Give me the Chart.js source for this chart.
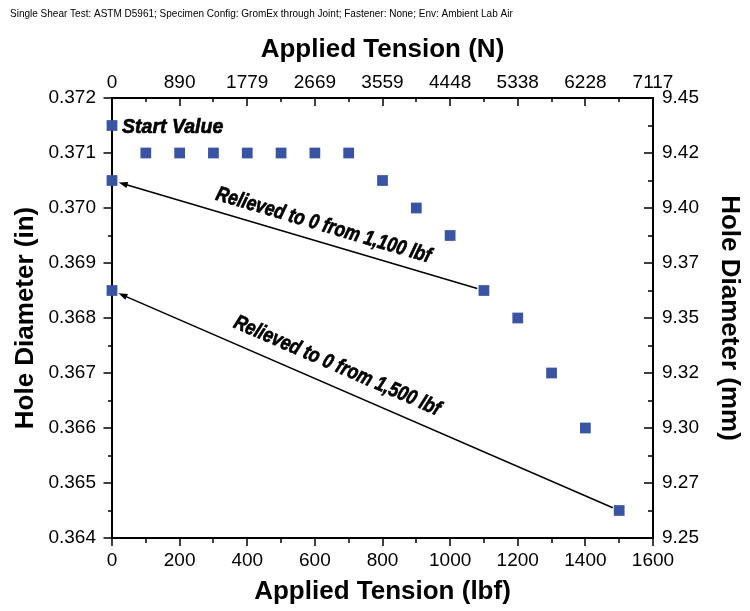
<!DOCTYPE html>
<html><head><meta charset="utf-8">
<script src="https://cdn.jsdelivr.net/npm/chart.js@4/dist/chart.umd.min.js"></script>
<style>html,body{margin:0;padding:0;background:#fff}#wrap{width:750px;height:611px}</style>
</head><body><div id="wrap"><canvas id="c" width="750" height="611"></canvas></div>
<script>
const chartTitle = 'Single Shear Test: ASTM D5961; Specimen Config: GromEx through Joint; Fastener: None; Env: Ambient Lab Air';
const tensionLbf     = [0,      0,      0,      100,   200,   300,   400,   500,   600,   700,   800,    900,   1000,   1100,   1200,  1300,  1400,  1500];
const holeDiameterIn = [0.3715, 0.3705, 0.3685, 0.371, 0.371, 0.371, 0.371, 0.371, 0.371, 0.371, 0.3705, 0.370, 0.3695, 0.3685, 0.368, 0.367, 0.366, 0.3645];
const xTicksLbf = [0, 200, 400, 600, 800, 1000, 1200, 1400, 1600];
const xTickLabelsN = ['0', '890', '1779', '2669', '3559', '4448', '5338', '6228', '7117'];
const yTicksIn = [0.364, 0.365, 0.366, 0.367, 0.368, 0.369, 0.370, 0.371, 0.372];
const yTickLabelsIn = ['0.364', '0.365', '0.366', '0.367', '0.368', '0.369', '0.370', '0.371', '0.372'];
const yTickLabelsMm = ['9.25', '9.27', '9.30', '9.32', '9.35', '9.37', '9.40', '9.42', '9.45'];
const arrowFromLbf = [1100, 1500];
const arrowFromIn  = [0.3685, 0.3645];
const arrowToLbf   = [0, 0];
const arrowToIn    = [0.3705, 0.3685];
const startNote = 'Start Value';
const startNoteLbf = 0;
const startNoteIn = 0.3715;
const arrowNotes = ['Relieved to 0 from 1,100 lbf', 'Relieved to 0 from 1,500 lbf'];

const FONT = "'Liberation Sans', Arial, Helvetica, sans-serif";
Chart.defaults.font.family = FONT;
Chart.defaults.color = '#000';

function mids(arr){ const m=[]; for(let i=0;i<arr.length-1;i++) m.push((arr[i]+arr[i+1])/2); return m; }

const tickPlugin = {
  id: 'tickMarks',
  beforeDatasetsDraw(chart){
    const ctx = chart.ctx, a = chart.chartArea, s = chart.scales;
    ctx.save();
    ctx.strokeStyle = '#000';
    ctx.lineWidth = 1.5;
    ctx.beginPath();
    xTicksLbf.forEach(v=>{ const p=Math.round(s.x.getPixelForValue(v)); ctx.moveTo(p,a.bottom); ctx.lineTo(p,a.bottom+8); ctx.moveTo(p,a.top); ctx.lineTo(p,a.top+8); });
    mids(xTicksLbf).forEach(v=>{ const p=Math.round(s.x.getPixelForValue(v)); ctx.moveTo(p,a.bottom); ctx.lineTo(p,a.bottom+5); ctx.moveTo(p,a.top); ctx.lineTo(p,a.top+4); });
    yTicksIn.forEach(v=>{ const p=Math.round(s.y.getPixelForValue(v)); ctx.moveTo(a.left,p); ctx.lineTo(a.left-8.5,p); ctx.moveTo(a.right,p); ctx.lineTo(a.right-9,p); });
    mids(yTicksIn).forEach(v=>{ const p=Math.round(s.y.getPixelForValue(v)); ctx.moveTo(a.left,p); ctx.lineTo(a.left-4,p); ctx.moveTo(a.right,p); ctx.lineTo(a.right-5,p); });
    ctx.stroke();
    ctx.restore();
  }
};

function drawNarrow(ctx, text, x, y, angle, sx, strokeW){
  ctx.save();
  ctx.translate(x, y);
  ctx.rotate(angle);
  ctx.scale(sx, 1);
  ctx.fillText(text, 0, 0);
  if (strokeW) { ctx.lineWidth = strokeW; ctx.lineJoin = 'round'; ctx.strokeText(text, 0, 0); }
  ctx.restore();
}

const subtitlePlugin = {
  id: 'subtitleNarrow',
  afterDraw(chart){
    const ctx = chart.ctx;
    ctx.save();
    ctx.fillStyle = '#000';
    ctx.textBaseline = 'middle';
    ctx.textAlign = 'left';
    ctx.font = "11.5px " + FONT;
    drawNarrow(ctx, chartTitle, 10, 14, 0, 0.87, 0);
    ctx.restore();
  }
};

const notePlugin = {
  id: 'notes',
  afterDatasetsDraw(chart){
    const ctx = chart.ctx, sx = chart.scales.x, sy = chart.scales.y;
    ctx.save();
    ctx.fillStyle = '#000';
    ctx.strokeStyle = '#000';
    ctx.textBaseline = 'alphabetic';
    ctx.textAlign = 'left';
    ctx.font = "italic bold 21px " + FONT;
    drawNarrow(ctx, startNote, sx.getPixelForValue(startNoteLbf) + 10, sy.getPixelForValue(startNoteIn) + 7, 0, 0.93, 0.7);
    const along = [104, 125];
    const perp = [11, 14.5];
    for (let i = 0; i < arrowFromLbf.length; i++){
      const x1 = sx.getPixelForValue(arrowFromLbf[i]), y1 = sy.getPixelForValue(arrowFromIn[i]);
      const x2 = sx.getPixelForValue(arrowToLbf[i]),   y2 = sy.getPixelForValue(arrowToIn[i]);
      const len = Math.hypot(x1-x2, y1-y2);
      const ux = (x1-x2)/len, uy = (y1-y2)/len;
      const nx = uy, ny = -ux;
      const sxp = x1 - ux*7, syp = y1 - uy*7;
      const tx = x2 + ux*7, ty = y2 + uy*7;
      const hl = 9, hw = 3.2;
      ctx.lineWidth = 1.5;
      ctx.beginPath();
      ctx.moveTo(sxp, syp);
      ctx.lineTo(tx + ux*hl*0.8, ty + uy*hl*0.8);
      ctx.stroke();
      ctx.beginPath();
      ctx.moveTo(tx, ty);
      ctx.lineTo(tx + ux*hl + nx*hw, ty + uy*hl + ny*hw);
      ctx.lineTo(tx + ux*hl - nx*hw, ty + uy*hl - ny*hw);
      ctx.closePath();
      ctx.fill();
      const ax = x2 + ux*along[i] + nx*perp[i];
      const ay = y2 + uy*along[i] + ny*perp[i];
      drawNarrow(ctx, arrowNotes[i], ax, ay, Math.atan2(uy, ux), 0.82, 0.7);
    }
    ctx.restore();
  }
};

const tickFont = () => ({size: 19, family: FONT});
const titleFont = () => ({size: 26, weight: 'bold', family: FONT});
const setTicks = vals => scale => { scale.ticks = vals.map(v => ({value: v})); };

new Chart(document.getElementById('c'), {
  type: 'scatter',
  data: {
    datasets: [{
      label: 'Hole Diameter',
      data: tensionLbf.map((x, i) => ({x: x, y: holeDiameterIn[i]})),
      pointStyle: 'rect',
      pointRadius: 7.6,
      pointHoverRadius: 7.6,
      backgroundColor: '#3A54A4',
      borderColor: '#3A54A4',
      borderWidth: 0,
      showLine: false,
      clip: false
    }]
  },
  options: {
    responsive: false,
    animation: false,
    devicePixelRatio: 1,
    layout: {padding: {left: 10, right: 0, top: 19, bottom: 0}},
    plugins: {
      legend: {display: false},
      tooltip: {enabled: false},
      title: {display: false}
    },
    scales: {
      x: {
        type: 'linear', position: 'bottom', min: 0, max: 1600,
        afterBuildTicks: setTicks(xTicksLbf),
        afterFit: s => { s.height = 73; },
        ticks: {font: tickFont(), color: '#000', padding: 11, maxRotation: 0, autoSkip: false,
                callback: (v) => String(v)},
        grid: {display: false, drawTicks: false},
        border: {display: true, color: '#000', width: 2},
        title: {display: true, text: 'Applied Tension (lbf)', font: titleFont(), color: '#000', padding: {top: 0, bottom: 4}}
      },
      x2: {
        type: 'linear', axis: 'x', position: 'top', min: 0, max: 1600,
        afterBuildTicks: setTicks(xTicksLbf),
        afterFit: s => { s.height = 79; },
        ticks: {font: tickFont(), color: '#000', padding: 4, maxRotation: 0, autoSkip: false,
                callback: (v, i) => xTickLabelsN[i]},
        grid: {display: false, drawTicks: false},
        border: {display: true, color: '#000', width: 2},
        title: {display: true, text: 'Applied Tension (N)', font: titleFont(), color: '#000', padding: {top: 15, bottom: 0}}
      },
      y: {
        type: 'linear', position: 'left', min: 0.364, max: 0.372,
        afterBuildTicks: setTicks(yTicksIn),
        afterFit: s => { s.width = 102; },
        ticks: {font: tickFont(), color: '#000', padding: 16, autoSkip: false,
                callback: (v, i) => yTickLabelsIn[i]},
        grid: {display: false, drawTicks: false},
        border: {display: true, color: '#000', width: 2},
        title: {display: true, text: 'Hole Diameter (in)', font: titleFont(), color: '#000', padding: {top: 0, bottom: 0}}
      },
      y2: {
        type: 'linear', axis: 'y', position: 'right', min: 0.364, max: 0.372,
        afterBuildTicks: setTicks(yTicksIn),
        afterFit: s => { s.width = 97; },
        ticks: {font: tickFont(), color: '#000', padding: 9, autoSkip: false,
                callback: (v, i) => yTickLabelsMm[i]},
        grid: {display: false, drawTicks: false},
        border: {display: true, color: '#000', width: 2},
        title: {display: true, text: 'Hole Diameter (mm)', font: titleFont(), color: '#000', padding: {top: 5, bottom: 0}}
      }
    }
  },
  plugins: [tickPlugin, notePlugin, subtitlePlugin]
});
</script>
</body></html>
